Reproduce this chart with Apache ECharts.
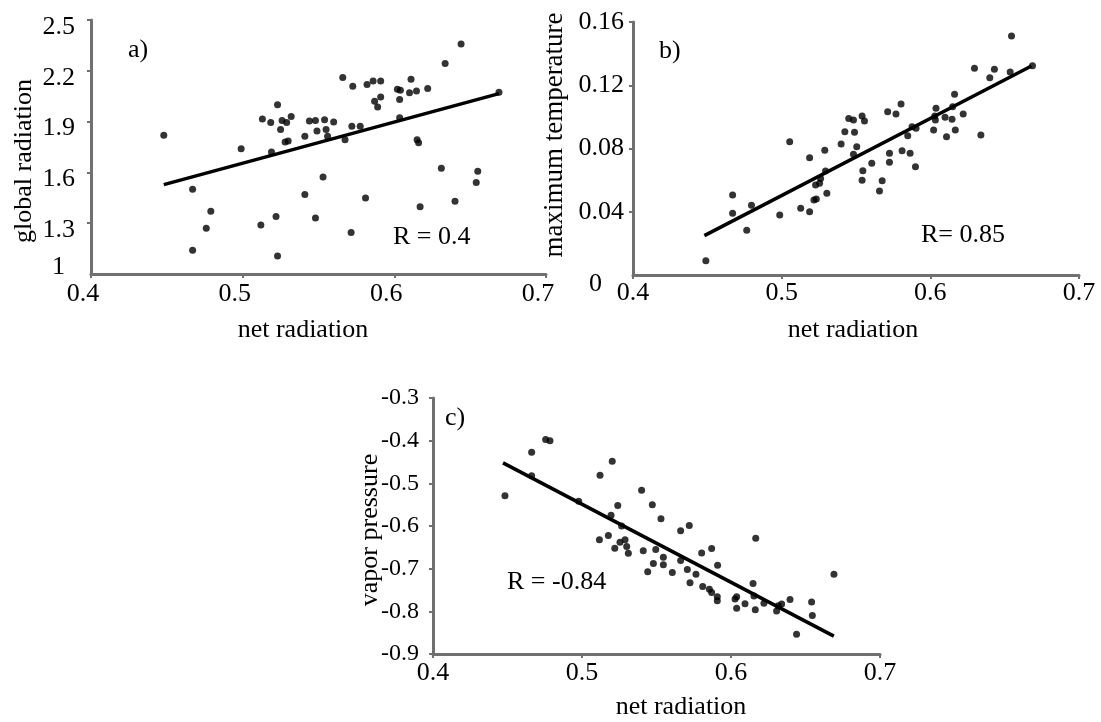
<!DOCTYPE html>
<html>
<head>
<meta charset="utf-8">
<script src="https://cdn.jsdelivr.net/npm/echarts@6/dist/echarts.min.js"></script>
<style>
html,body{margin:0;padding:0;background:#fff;}
#chart{width:1101px;height:722px;}
</style>
</head>
<body>
<div id="chart"></div>
<script>
// ---- data ----
var netRadA = [0.448,0.467,0.467,0.479,0.476,0.499,0.512,0.513,0.5185,0.523,0.526,0.529,0.532,0.525,0.528,0.530,0.519,0.522,0.523,0.541,0.541,0.544,0.548,0.549,0.548,0.554,0.555,0.560,0.556,0.553,0.5715,0.572,0.5775,0.5675,0.581,0.566,0.5726,0.582,0.586,0.591,0.591,0.587,0.589,0.6035,0.602,0.604,0.6035,0.611,0.610,0.6146,0.622,0.615,0.616,0.631,0.617,0.640,0.6335,0.644,0.655,0.654,0.669];
var globalRad = [1.82,1.50,1.14,1.37,1.27,1.74,1.29,1.915,1.894,2.00,1.907,1.895,1.93,1.854,1.78,1.785,1.72,1.34,1.107,1.47,1.814,1.903,1.907,1.844,1.33,1.911,1.854,1.897,1.814,1.573,1.245,1.872,1.872,1.793,1.449,2.16,2.109,2.119,2.14,2.14,2.045,2.02,1.986,1.923,2.091,2.085,2.03,2.15,2.071,2.08,2.095,1.793,1.775,1.624,1.397,1.429,2.243,2.358,1.607,1.54,2.073];
var fitA = [[0.448,1.528],[0.669,2.065]];

var netRadB = [0.449,0.467,0.467,0.4765,0.4797,0.4987,0.5054,0.5128,0.5188,0.5188,0.5217,0.5233,0.5228,0.5255,0.5262,0.5295,0.5304,0.529,0.540,0.5425,0.5451,0.5483,0.5541,0.5557,0.549,0.5505,0.5483,0.5606,0.5546,0.5541,0.5676,0.5658,0.5725,0.5725,0.5713,0.5769,0.5803,0.581,0.5864,0.5848,0.5877,0.5904,0.590,0.6022,0.6038,0.6034,0.603,0.6099,0.6146,0.615,0.6163,0.6109,0.6168,0.6221,0.634,0.6297,0.640,0.6431,0.6537,0.6546,0.6687];
var maxTemp = [0.009,0.0506,0.039,0.0283,0.0441,0.038,0.0843,0.0422,0.040,0.0742,0.0474,0.048,0.0569,0.058,0.0611,0.0658,0.0517,0.0789,0.0828,0.0906,0.099,0.098,0.1006,0.0974,0.0902,0.0811,0.0763,0.0706,0.066,0.060,0.0596,0.0531,0.077,0.0713,0.1033,0.1018,0.1081,0.0786,0.077,0.0881,0.0938,0.0928,0.0685,0.0917,0.1054,0.098,0.1005,0.0997,0.0985,0.1064,0.1143,0.0875,0.0917,0.1018,0.0885,0.1307,0.1248,0.1301,0.1284,0.1511,0.1324];
var fitB = [[0.448,0.0249],[0.668,0.1322]];

var netRadC = [0.4483,0.4662,0.4662,0.4756,0.4785,0.4978,0.5121,0.5203,0.524,0.5195,0.5266,0.5117,0.5177,0.522,0.5255,0.5289,0.530,0.5311,0.5411,0.5441,0.540,0.5472,0.5479,0.5495,0.553,0.5546,0.5546,0.5606,0.5662,0.572,0.5662,0.5707,0.5725,0.5765,0.5803,0.587,0.591,0.581,0.5855,0.587,0.5908,0.5908,0.6027,0.6038,0.6038,0.6094,0.6163,0.6148,0.6166,0.6154,0.6221,0.6306,0.6317,0.634,0.6396,0.644,0.6541,0.6546,0.6691];
var vaporP = [-0.529,-0.427,-0.482,-0.397,-0.400,-0.542,-0.481,-0.448,-0.552,-0.575,-0.600,-0.632,-0.622,-0.652,-0.638,-0.632,-0.648,-0.664,-0.658,-0.707,-0.516,-0.550,-0.688,-0.655,-0.583,-0.673,-0.691,-0.709,-0.611,-0.599,-0.681,-0.702,-0.733,-0.713,-0.663,-0.653,-0.692,-0.742,-0.748,-0.756,-0.766,-0.775,-0.771,-0.766,-0.793,-0.782,-0.796,-0.735,-0.629,-0.764,-0.781,-0.799,-0.787,-0.783,-0.772,-0.854,-0.778,-0.810,-0.713];
var fitC = [[0.447,-0.452],[0.669,-0.858]];

var xTicks = {min:0.4, max:0.7, interval:0.1};
var yTicksA = {min:1, max:2.5, interval:0.3};
var yTicksB = {min:0, max:0.16, interval:0.04};
var yTicksC = {min:-0.9, max:-0.3, interval:0.1};

// ---- build ----
function zip(xs, ys){ return xs.map(function(x,i){ return [x, ys[i]]; }); }
var FONT = 'Liberation Serif';
var AX = '#707070';
function fmt(d){ return function(v){ return String(+v.toFixed(d)); }; }

function xAxis(idx, margin, padRight){
  return {
    type:'value', gridIndex:idx, min:xTicks.min, max:xTicks.max, interval:xTicks.interval,
    axisLine:{show:true, lineStyle:{color:AX, width:3}},
    axisTick:{show:true, length:4, lineStyle:{color:AX, width:2}},
    splitLine:{show:false},
    axisLabel:{color:'#000', fontFamily:FONT, fontSize:26, margin:margin, formatter:fmt(1), padding:[0,padRight||0,0,0]}
  };
}
function yAxis(idx, t, dec, margin, size, shift, hideMin){
  var lab = {color:'#000', fontFamily:FONT, fontSize:size, margin:margin, formatter:fmt(dec)};
  if (shift) { lab.verticalAlign = 'top'; lab.lineHeight = shift * 2; }
  if (hideMin) { lab.showMinLabel = false; }
  return {
    type:'value', gridIndex:idx, min:t.min, max:t.max, interval:t.interval,
    axisLine:{show:true, lineStyle:{color:AX, width:3}},
    axisTick:{show:true, length:4, lineStyle:{color:AX, width:2}},
    splitLine:{show:false},
    axisLabel:lab
  };
}
function scatter(idx, data){
  return {type:'scatter', xAxisIndex:idx, yAxisIndex:idx, data:data, symbolSize:7,
    itemStyle:{color:'#000'}, silent:true, z:3};
}
function fit(idx, data){
  return {type:'line', xAxisIndex:idx, yAxisIndex:idx, data:data, symbol:'none',
    lineStyle:{color:'#000', width:3.5}, silent:true, z:2};
}
function txt(s, x, y, align, rot, size){
  return {type:'text', x:x, y:y, rotation:rot||0, silent:true,
    style:{text:s, fontFamily:FONT, fontSize:size||26, fill:'#000', align:align||'center', verticalAlign:'middle'}};
}

var chart = echarts.init(document.getElementById('chart'), null, {renderer:'canvas'});
chart.setOption({
  backgroundColor:'#fff',
  animation:false,
  grid:[
    {left:91, top:20, width:455, height:254, containLabel:false},
    {left:633, top:22, width:446, height:253, containLabel:false},
    {left:433, top:398, width:447, height:256, containLabel:false}
  ],
  xAxis:[ xAxis(0,7,16), xAxis(1,5), xAxis(2,6) ],
  yAxis:[ yAxis(0,yTicksA,2,16,26,7,true), yAxis(1,yTicksB,2,9,26,0,true), yAxis(2,yTicksC,1,14,24) ],
  series:[
    fit(0, fitA), scatter(0, zip(netRadA, globalRad)),
    fit(1, fitB), scatter(1, zip(netRadB, maxTemp)),
    fit(2, fitC), scatter(2, zip(netRadC, vaporP))
  ],
  graphic:[
    // offset minimum tick labels (as placed in the original)
    txt(fmt(2)(yTicksA.min), 65, 267, 'right'),
    txt(fmt(2)(yTicksB.min), 602, 284, 'right'),
    txt('global radiation', 24, 161, 'center', Math.PI/2),
    txt('net radiation', 303, 330),
    txt('a)', 128, 50, 'left'),
    txt('R = 0.4', 393, 237, 'left'),
    txt('maximum temperature', 555, 135, 'center', Math.PI/2, 27),
    txt('net radiation', 853, 330),
    txt('b)', 659, 51, 'left'),
    txt('R= 0.85', 921, 235, 'left'),
    txt('vapor pressure', 370, 530, 'center', Math.PI/2),
    txt('net radiation', 681, 707),
    txt('c)', 445, 418, 'left'),
    txt('R = -0.84', 507, 582, 'left')
  ]
});
</script>
</body>
</html>
